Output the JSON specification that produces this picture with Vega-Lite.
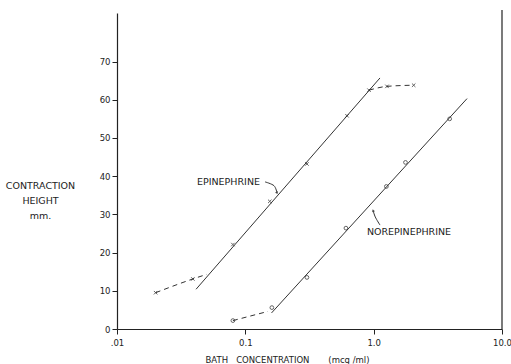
{
  "$schema": "https://vega.github.io/schema/vega-lite/v6.json",
  "width": 385,
  "height": 316,
  "autosize": {"type": "none"},
  "padding": {"left": 117, "top": 13, "right": 9, "bottom": 35},
  "background": "white",
  "config": {
    "view": {"stroke": null},
    "font": "DejaVu Sans",
    "axis": {"domainColor": "#222", "tickColor": "#222", "labelColor": "#222", "titleColor": "#222", "grid": false, "domainWidth": 1.2, "tickWidth": 1}
  },
  "datasets": {
    "points": [
      {"drug": "Epinephrine", "conc": 0.02, "height": 9.5},
      {"drug": "Epinephrine", "conc": 0.039, "height": 13.1},
      {"drug": "Epinephrine", "conc": 0.08, "height": 22.1},
      {"drug": "Epinephrine", "conc": 0.155, "height": 33.4},
      {"drug": "Epinephrine", "conc": 0.302, "height": 43.2},
      {"drug": "Epinephrine", "conc": 0.62, "height": 55.8},
      {"drug": "Epinephrine", "conc": 0.92, "height": 62.5},
      {"drug": "Epinephrine", "conc": 1.27, "height": 63.5},
      {"drug": "Epinephrine", "conc": 2.05, "height": 63.8},
      {"drug": "Norepinephrine", "conc": 0.08, "height": 2.2},
      {"drug": "Norepinephrine", "conc": 0.161, "height": 5.6},
      {"drug": "Norepinephrine", "conc": 0.302, "height": 13.5},
      {"drug": "Norepinephrine", "conc": 0.608, "height": 26.4},
      {"drug": "Norepinephrine", "conc": 1.256, "height": 37.3},
      {"drug": "Norepinephrine", "conc": 1.77, "height": 43.6},
      {"drug": "Norepinephrine", "conc": 3.91, "height": 55.0}
    ],
    "solid": [
      {"drug": "Epinephrine", "conc": 0.0413, "height": 10.4},
      {"drug": "Epinephrine", "conc": 1.12, "height": 65.7},
      {"drug": "Norepinephrine", "conc": 0.16, "height": 4.2},
      {"drug": "Norepinephrine", "conc": 5.34, "height": 60.3}
    ],
    "dashed": [
      {"seg": "epi-low", "ord": 1, "conc": 0.02, "height": 9.5},
      {"seg": "epi-low", "ord": 2, "conc": 0.039, "height": 13.1},
      {"seg": "epi-low", "ord": 3, "conc": 0.05, "height": 14.3},
      {"seg": "epi-high", "ord": 1, "conc": 0.92, "height": 62.5},
      {"seg": "epi-high", "ord": 2, "conc": 1.27, "height": 63.5},
      {"seg": "epi-high", "ord": 3, "conc": 2.05, "height": 63.8},
      {"seg": "nor-low", "ord": 1, "conc": 0.08, "height": 2.2},
      {"seg": "nor-low", "ord": 2, "conc": 0.15, "height": 4.6}
    ],
    "arrows": [
      {"arrow": "epi", "ord": 1, "conc": 0.1424, "height": 38.5},
      {"arrow": "epi", "ord": 2, "conc": 0.1673, "height": 37.5},
      {"arrow": "epi", "ord": 3, "conc": 0.1765, "height": 35.6},
      {"arrow": "nor", "ord": 1, "conc": 1.12, "height": 27.2},
      {"arrow": "nor", "ord": 2, "conc": 1.03, "height": 29.3},
      {"arrow": "nor", "ord": 3, "conc": 0.99, "height": 31.0}
    ],
    "labels": [
      {"label": "EPINEPHRINE", "conc": 0.0739, "height": 38.5},
      {"label": "NOREPINEPHRINE", "conc": 1.885, "height": 25.4}
    ],
    "border": [
      {"conc": 10, "height": 0, "height2": 83.5}
    ]
  },
  "encoding": {
    "x": {
      "field": "conc",
      "type": "quantitative",
      "scale": {"type": "log", "domain": [0.01, 10]},
      "axis": {
        "values": [0.01, 0.1, 1, 10],
        "labelExpr": "datum.value == 0.01 ? '.01' : datum.value == 0.1 ? '0.1' : datum.value == 1 ? '1.0' : '10.0'",
        "tickSize": 5,
        "labelFontSize": 8.5,
        "labelPadding": 4,
        "labelFlush": false,
        "title": "BATH\u00a0\u00a0\u00a0CONCENTRATION\u00a0\u00a0\u00a0\u00a0\u00a0\u00a0\u00a0(mcg\u00a0/ml)",
        "titleFontSize": 8.5,
        "titleFontWeight": "normal",
        "titleX": 170,
        "titleY": 30,
        "titleAlign": "center",
        "titleBaseline": "middle"
      }
    },
    "y": {
      "field": "height",
      "type": "quantitative",
      "scale": {"domain": [0, 82.7], "nice": false, "zero": false},
      "axis": {
        "values": [0, 10, 20, 30, 40, 50, 60, 70],
        "tickSize": 5,
        "labelFontSize": 8.5,
        "labelPadding": 2,
        "title": ["CONTRACTION", "HEIGHT", "mm."],
        "titleAngle": 0,
        "titleX": -77,
        "titleY": 167,
        "titleAlign": "center",
        "titleBaseline": "top",
        "titleFontSize": 9.5,
        "titleFontWeight": "normal",
        "titleLineHeight": 15
      }
    }
  },
  "layer": [
    {
      "data": {"name": "border"},
      "mark": {"type": "rule", "color": "#222", "strokeWidth": 1.2},
      "encoding": {"y2": {"field": "height2"}}
    },
    {
      "data": {"name": "solid"},
      "mark": {"type": "line", "color": "#333", "strokeWidth": 1},
      "encoding": {"detail": {"field": "drug"}}
    },
    {
      "data": {"name": "dashed"},
      "mark": {"type": "line", "color": "#333", "strokeWidth": 1, "strokeDash": [5, 4], "interpolate": "monotone"},
      "encoding": {"detail": {"field": "seg"}, "order": {"field": "ord"}}
    },
    {
      "data": {"name": "points"},
      "transform": [{"filter": "datum.drug == 'Epinephrine'"}],
      "mark": {"type": "point", "shape": "M-1,-1L1,1M-1,1L1,-1", "size": 12, "color": "#222", "strokeWidth": 1, "filled": false}
    },
    {
      "data": {"name": "points"},
      "transform": [{"filter": "datum.drug == 'Norepinephrine'"}],
      "mark": {"type": "point", "shape": "circle", "size": 14, "color": "#222", "strokeWidth": 1, "filled": false}
    },
    {
      "data": {"name": "arrows"},
      "mark": {"type": "line", "color": "#333", "strokeWidth": 1, "interpolate": "cardinal"},
      "encoding": {"detail": {"field": "arrow"}, "order": {"field": "ord"}}
    },
    {
      "data": {"name": "arrows"},
      "transform": [{"filter": "datum.ord == 3 && datum.arrow == 'epi'"}],
      "mark": {"type": "point", "shape": "triangle-down", "angle": -25, "size": 10, "filled": true, "color": "#222"}
    },
    {
      "data": {"name": "arrows"},
      "transform": [{"filter": "datum.ord == 3 && datum.arrow == 'nor'"}],
      "mark": {"type": "point", "shape": "triangle-up", "angle": -20, "size": 10, "filled": true, "color": "#222"}
    },
    {
      "data": {"name": "labels"},
      "mark": {"type": "text", "fontSize": 9.5, "color": "#222", "align": "center", "baseline": "middle"},
      "encoding": {"text": {"field": "label"}}
    }
  ]
}
